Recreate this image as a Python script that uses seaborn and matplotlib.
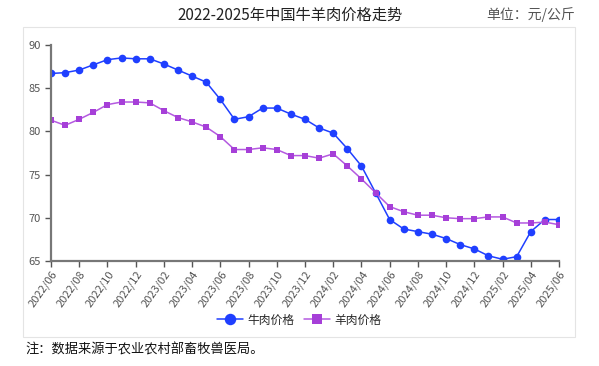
import pandas as pd
import matplotlib
matplotlib.use('Agg')
import matplotlib.pyplot as plt
import seaborn as sns
from matplotlib.patches import Rectangle

# monthly prices, 2022/06 .. 2025/06 (yuan / kg)
months = ['2022/06', '2022/07', '2022/08', '2022/09', '2022/10', '2022/11', '2022/12',
          '2023/01', '2023/02', '2023/03', '2023/04', '2023/05', '2023/06', '2023/07',
          '2023/08', '2023/09', '2023/10', '2023/11', '2023/12', '2024/01', '2024/02',
          '2024/03', '2024/04', '2024/05', '2024/06', '2024/07', '2024/08', '2024/09',
          '2024/10', '2024/11', '2024/12', '2025/01', '2025/02', '2025/03', '2025/04',
          '2025/05', '2025/06']
beef = [86.7, 86.8, 87.1, 87.7, 88.3, 88.5, 88.4, 88.4, 87.8, 87.1, 86.4, 85.7,
        83.7, 81.4, 81.7, 82.7, 82.7, 82.0, 81.4, 80.4, 79.8, 78.0, 76.0, 72.9,
        69.8, 68.7, 68.4, 68.1, 67.6, 66.9, 66.4, 65.6, 65.2, 65.5, 68.4, 69.8, 69.8]
mutton = [81.3, 80.7, 81.4, 82.2, 83.1, 83.4, 83.4, 83.3, 82.4, 81.6, 81.1, 80.5,
          79.4, 77.9, 77.9, 78.1, 77.9, 77.2, 77.2, 76.9, 77.4, 76.0, 74.5, 72.9,
          71.3, 70.7, 70.3, 70.3, 70.0, 69.9, 69.9, 70.1, 70.1, 69.4, 69.4, 69.5, 69.2]
yticks = [65, 70, 75, 80, 85, 90]

sns.set_style('white')
plt.rcParams['font.family'] = ['Noto Sans CJK SC', 'DejaVu Sans']

df = pd.DataFrame({'month': months, 'idx': range(len(months)),
                   '牛肉价格': beef, '羊肉价格': mutton})

fig = plt.figure(figsize=(5.99, 3.66), dpi=100)
ax = fig.add_axes([0.0851, 0.2869, 0.8481, 0.5902])

# light panel frame around the chart
fig.patches.append(Rectangle((23 / 599, 1 - 337 / 366), 552 / 599, 310 / 366,
                             transform=fig.transFigure, fill=False,
                             edgecolor='#e4e4e4', linewidth=0.8))

sns.lineplot(data=df, x='idx', y='牛肉价格', ax=ax, color='#1f3fff', linewidth=1.1,
             marker='o', markersize=5.5, markeredgewidth=0, label='牛肉价格')
sns.lineplot(data=df, x='idx', y='羊肉价格', ax=ax, color='#b45ae0', linewidth=1.1,
             marker='s', markersize=5, markeredgewidth=0, markerfacecolor='#a63fd8',
             label='羊肉价格')

ax.set_xlim(0, len(months) - 1)
ax.set_ylim(65, 90)
ax.set_yticks(yticks)
ax.set_xticks(df['idx'][::2])
ax.set_xticklabels(df['month'][::2], rotation=55, ha='right', rotation_mode='anchor')
ax.set_xlabel('')
ax.set_ylabel('')
ax.tick_params(axis='both', labelsize=8, colors='#555555', length=4, width=1,
               direction='out', bottom=True, left=True)
ax.tick_params(axis='x', pad=2)
for s in ['top', 'right']:
    ax.spines[s].set_visible(False)
for s in ['left', 'bottom']:
    ax.spines[s].set_color('#777777')
    ax.spines[s].set_linewidth(1.6)

ax.legend(loc='center', bbox_to_anchor=(299 / 599, 1 - 320 / 366),
          bbox_transform=fig.transFigure, ncol=2, frameon=False, fontsize=8.5,
          markerscale=1.5, handlelength=2.2, columnspacing=0.8, handletextpad=0.4)

fig.text(290 / 599, 1 - 15 / 366, '2022-2025年中国牛羊肉价格走势', ha='center',
         va='center', fontsize=11, color='#222222')
fig.text(575 / 599, 1 - 15 / 366, '单位：元/公斤', ha='right', va='center',
         fontsize=10, color='#555555')
fig.text(25 / 599, 1 - 350 / 366, '注：数据来源于农业农村部畜牧兽医局。', ha='left',
         va='center', fontsize=9.5, color='#111111')

fig.savefig('out.png', dpi=100)
